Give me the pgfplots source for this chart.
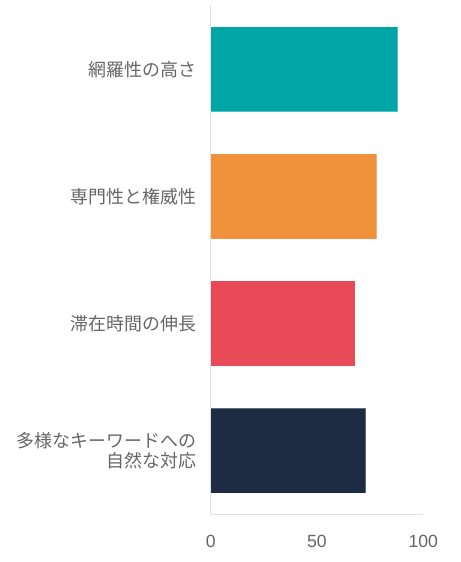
\documentclass[border=0pt]{standalone}
\usepackage{fontspec}
\setmainfont{Noto Sans CJK JP}
\newfontfamily\arial{Liberation Sans}
\usepackage{pgfplots}
\pgfplotsset{compat=1.18}
\definecolor{teal1}{HTML}{00A6A6}
\definecolor{orange1}{HTML}{F0913B}
\definecolor{red1}{HTML}{E84A57}
\definecolor{navy1}{HTML}{1D2B43}
\definecolor{txt}{HTML}{666666}
\definecolor{axline}{HTML}{E0E0E0}
\begin{document}
\begin{tikzpicture}
\useasboundingbox (-210.7bp,-47.7bp) rectangle (250.3bp,514.3bp);
\begin{axis}[
    at={(0,0)}, anchor=south west,
    scale only axis,
    width=212.6bp, height=508.6bp,
    xbar, bar shift=0pt, bar width=85.3bp,
    xmin=0, xmax=100,
    ymin=-0.5, ymax=3.5,
    axis x line=bottom, axis y line=left,
    axis line style={axline, line width=1bp, -},
    major tick length=0pt,
    xtick={0,50,100},
    ytick={0,1,2,3},
    yticklabels={{多様なキーワードへの\\自然な対応},{滞在時間の伸長},{専門性と権威性},{網羅性の高さ}},
    /pgf/number format/assume math mode=true,
    xticklabel style={font=\arial\fontsize{17.7}{20}\selectfont, text=txt, yshift=-17bp},
    yticklabel style={font=\fontsize{18}{20}\selectfont, text=txt, align=right, xshift=-11bp},
]
\addplot[fill=navy1, draw=white, draw opacity=0.3, line width=1bp] coordinates {(73,0)};
\addplot[fill=red1, draw=white, draw opacity=0.3, line width=1bp] coordinates {(68,1)};
\addplot[fill=orange1, draw=white, draw opacity=0.3, line width=1bp] coordinates {(78,2)};
\addplot[fill=teal1, draw=white, draw opacity=0.3, line width=1bp] coordinates {(88,3)};
\end{axis}
\end{tikzpicture}
\end{document}
